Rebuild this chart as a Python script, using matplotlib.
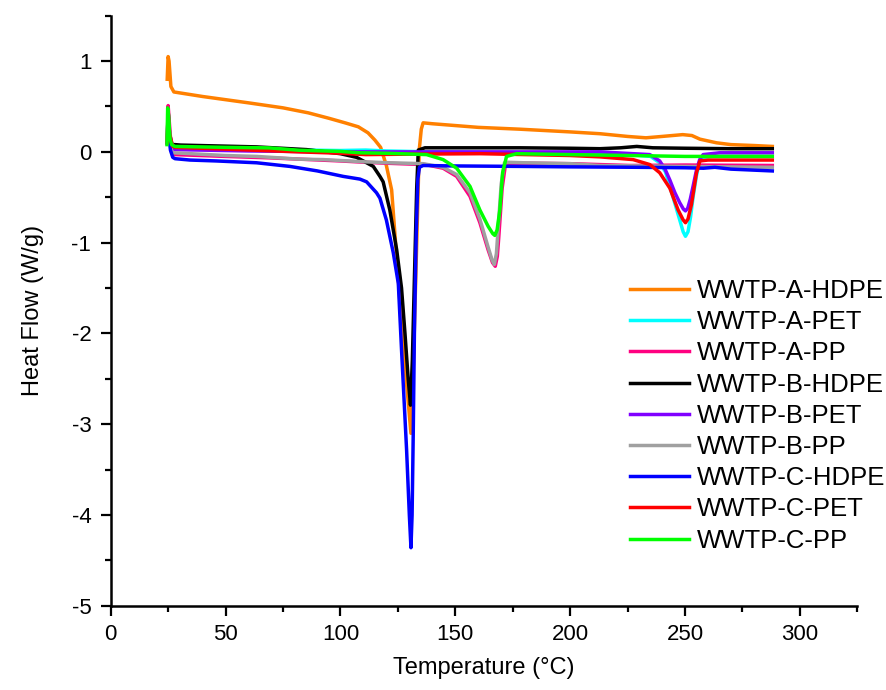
import matplotlib
matplotlib.use("Agg")
import matplotlib.pyplot as plt
from matplotlib.ticker import MultipleLocator

plt.rcParams['font.family'] = ['Liberation Sans', 'DejaVu Sans']
plt.rcParams['axes.unicode_minus'] = False

# ---- data (Temperature °C, Heat Flow W/g) ----
t_a_hdpe = [24.6, 25.0, 25.4, 26.2, 27.5, 40, 60, 75, 86, 95, 102, 107.8, 112, 115, 117.5, 120, 122.3,
            125.2, 127.5, 129.5, 130.7, 131.8, 133, 134.3, 135.2, 136, 140, 150, 160, 178, 200, 213,
            225, 233, 240, 249, 253, 256.5, 263.7, 270, 280, 288]
h_a_hdpe = [0.80, 1.05, 1.0, 0.72, 0.66, 0.61, 0.54, 0.485, 0.43, 0.37, 0.32, 0.276, 0.21, 0.13, 0.05, -0.15,
            -0.42, -1.41, -2.2, -2.75, -3.10, -2.3, -1.2, 0.02, 0.25, 0.32, 0.31, 0.29, 0.27, 0.25, 0.22,
            0.20, 0.17, 0.155, 0.17, 0.19, 0.18, 0.14, 0.10, 0.08, 0.07, 0.06]

t_a_pet = [24.6, 25.0, 25.6, 27, 40, 60, 82, 100, 111, 120, 140, 160, 180, 200, 213, 226, 235, 239,
           241.5, 243.4, 245.5, 247.7, 249.2, 250.2, 251.3, 252.4, 253.5, 255, 256.4, 257.9, 262, 288]
h_a_pet = [0.10, 0.45, 0.2, 0.05, 0.04, 0.03, 0.02, 0.015, 0.02, 0.01, 0.0, -0.005, -0.01, -0.015, -0.02,
           -0.03, -0.05, -0.12, -0.22, -0.38, -0.56, -0.75, -0.88, -0.93, -0.88, -0.72, -0.5, -0.26, -0.1,
           -0.06, -0.05, -0.05]

t_a_pp = [24.6, 25.0, 25.6, 26.5, 28, 50, 69, 82, 100, 111, 120, 137, 144.7, 150.6, 156.4, 160.7,
          164.3, 166.2, 167.4, 168.3, 168.9, 170.4, 171.9, 173.5, 180, 200, 213, 226, 250, 288]
h_a_pp = [0.10, 0.51, 0.3, 0.0, -0.03, -0.05, -0.066, -0.08, -0.10, -0.115, -0.125, -0.14, -0.18, -0.27,
          -0.49, -0.78, -1.08, -1.22, -1.26, -1.15, -0.95, -0.4, -0.13, -0.125, -0.125, -0.13, -0.14,
          -0.15, -0.145, -0.15]

t_b_hdpe = [24.8, 25.3, 26.5, 28, 30.4, 63.5, 85.3, 100, 107, 111.4, 114.3, 117.2, 118.6, 121.5, 124.5,
            126.6, 128.1, 129.5, 130.5, 131.3, 132.2, 133.2, 133.9, 136.8, 150, 178, 200, 213, 222, 229,
            236, 250, 270, 288]
h_b_hdpe = [0.12, 0.2, 0.08, 0.08, 0.075, 0.055, 0.025, -0.02, -0.06, -0.12, -0.16, -0.27, -0.33, -0.64, -1.08,
            -1.5, -2.0, -2.5, -2.79, -2.3, -1.4, -0.4, 0.02, 0.045, 0.045, 0.045, 0.04, 0.035, 0.045, 0.06,
            0.045, 0.04, 0.035, 0.035]

t_b_pet = [24.6, 25.0, 25.6, 27, 28, 60, 100, 130, 160, 200, 213, 234.7, 239, 241.3, 243.4, 245.6, 247.7,
           249.3, 250.2, 251.2, 252.3, 253.5, 255, 256.4, 257.9, 265, 288]
h_b_pet = [0.10, 0.45, 0.2, 0.04, 0.025, 0.01, 0.0, 0.0, 0.0, 0.0, 0.0, -0.03, -0.10, -0.19, -0.31, -0.45,
           -0.56, -0.63, -0.65, -0.62, -0.52, -0.38, -0.2, -0.085, -0.03, -0.01, -0.01]

t_b_pp = [24.6, 25.0, 25.6, 26.5, 27.3, 50, 63.5, 82, 92.5, 111, 121.5, 136, 144.7, 150.6, 156.4, 160.7,
          164.3, 166.0, 167.0, 167.9, 168.5, 170.0, 171.4, 173, 180, 200, 213, 250, 288]
h_b_pp = [0.10, 0.40, 0.2, 0.0, -0.01, -0.04, -0.05, -0.08, -0.085, -0.11, -0.12, -0.13, -0.17, -0.25,
          -0.45, -0.74, -1.05, -1.19, -1.24, -1.12, -0.9, -0.35, -0.12, -0.115, -0.12, -0.13, -0.15,
          -0.16, -0.17]

t_c_hdpe = [24.8, 25.3, 26.0, 27.0, 28, 34.5, 46, 63.5, 78, 90, 101.2, 108.5, 111.4, 115.7, 117.2, 120,
            123, 125.2, 126.6, 128.8, 130.0, 130.7, 131.2, 131.7, 132.2, 133.0, 133.7, 134.4, 136, 150,
            178, 200, 230, 250, 258, 263, 270, 288]
h_c_hdpe = [0.10, 0.18, 0.02, -0.06, -0.075, -0.09, -0.10, -0.12, -0.16, -0.21, -0.27, -0.30, -0.33, -0.45,
            -0.51, -0.75, -1.11, -1.45, -2.18, -3.28, -4.0, -4.36, -4.0, -3.1, -2.0, -0.9, -0.3, -0.17,
            -0.15, -0.155, -0.16, -0.165, -0.17, -0.175, -0.18, -0.17, -0.19, -0.21]

t_c_pet = [24.6, 25.0, 25.6, 27, 28, 50, 82, 100, 111, 130, 161, 200, 213, 227.4, 234.7, 239, 243.4,
           247, 249.2, 250.2, 251.3, 252.8, 255, 256.5, 260, 288]
h_c_pet = [0.10, 0.45, 0.2, 0.06, 0.05, 0.03, 0.0, -0.015, -0.03, -0.025, -0.02, -0.04, -0.055, -0.085,
           -0.14, -0.23, -0.40, -0.64, -0.75, -0.78, -0.74, -0.58, -0.23, -0.10, -0.09, -0.09]

t_c_pp = [24.5, 24.8, 25.2, 25.8, 26.5, 28, 50, 69, 82, 100, 108.5, 120, 137.5, 144.7, 150.6, 156.4,
          160.7, 164.3, 166.3, 167.2, 168.2, 169.4, 170.6, 172.3, 176.7, 200, 226, 250, 288]
h_c_pp = [0.08, 0.485, 0.4, 0.15, 0.08, 0.06, 0.05, 0.044, 0.018, 0.005, -0.01, -0.015, -0.03, -0.085,
          -0.18, -0.38, -0.64, -0.82, -0.9, -0.92, -0.86, -0.64, -0.23, -0.05, -0.02, -0.03, -0.04,
          -0.05, -0.05]

labels = ['WWTP-A-HDPE', 'WWTP-A-PET', 'WWTP-A-PP', 'WWTP-B-HDPE', 'WWTP-B-PET',
          'WWTP-B-PP', 'WWTP-C-HDPE', 'WWTP-C-PET', 'WWTP-C-PP']
colors = ['#FF8000', '#00FFFF', '#FF0080', '#000000', '#8000FF',
          '#A0A0A0', '#0000FF', '#FF0000', '#00FF00']
series = [(t_a_hdpe, h_a_hdpe), (t_a_pet, h_a_pet), (t_a_pp, h_a_pp),
          (t_b_hdpe, h_b_hdpe), (t_b_pet, h_b_pet), (t_b_pp, h_b_pp),
          (t_c_hdpe, h_c_hdpe), (t_c_pet, h_c_pet), (t_c_pp, h_c_pp)]

fig = plt.figure(figsize=(8.87, 6.90), dpi=100)
ax = fig.add_axes([110.7 / 887, 1 - 605.8 / 690, (857.3 - 110.7) / 887, (605.8 - 15.7) / 690])

for (t, h), c, lab in zip(series, colors, labels):
    ax.plot(t, h, color=c, lw=2.5, label=lab, solid_joinstyle='round')

ax.set_xlim(0, 325)
ax.set_ylim(-5, 1.5)
ax.xaxis.set_major_locator(MultipleLocator(50))
ax.xaxis.set_minor_locator(MultipleLocator(25))
ax.yaxis.set_major_locator(MultipleLocator(1))
ax.yaxis.set_minor_locator(MultipleLocator(0.5))

for s in ['top', 'right']:
    ax.spines[s].set_visible(False)
for s in ['left', 'bottom']:
    ax.spines[s].set_linewidth(1.8)

ax.tick_params(which='major', direction='out', length=7, width=1.6, labelsize=16)
ax.tick_params(which='minor', direction='out', length=4.5, width=1.6)
ax.tick_params(axis='y', which='major', pad=7)
ax.tick_params(axis='x', which='major', pad=6)

ax.set_xlabel('Temperature (°C)', fontsize=17, labelpad=9)
ax.set_ylabel('Heat Flow (W/g)', fontsize=17, labelpad=20)

fig.legend(loc='upper left', bbox_to_anchor=(630 / 887, 1 - 279 / 690), frameon=False,
           fontsize=18.5, handlelength=2.3, handletextpad=0.3, labelspacing=0.28, borderpad=0,
           borderaxespad=0)

fig.savefig('out.png', dpi=100)
